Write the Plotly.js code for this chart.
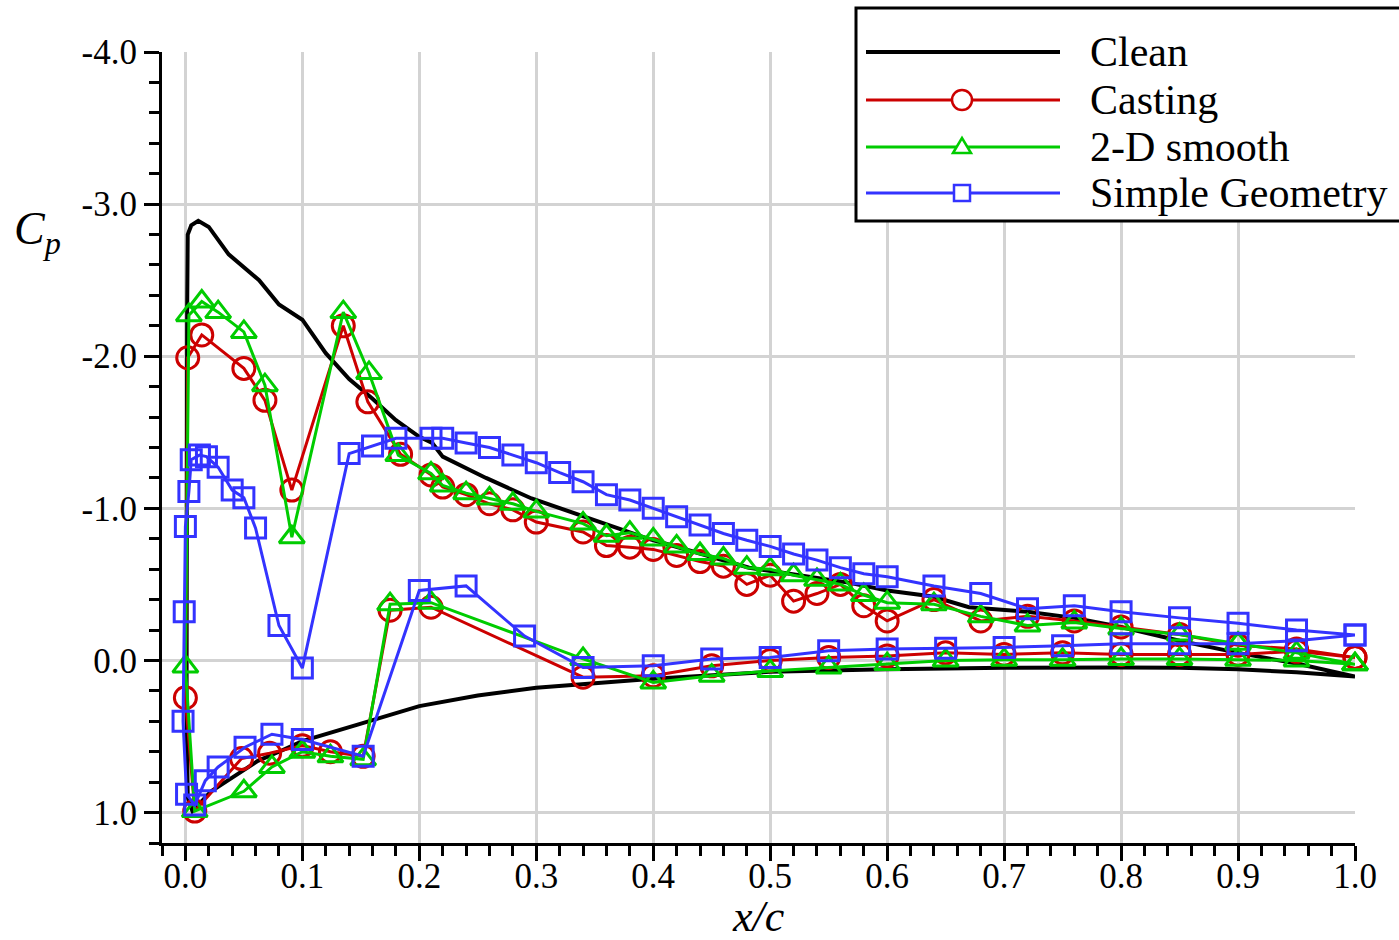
<!DOCTYPE html>
<html>
<head>
<meta charset="utf-8">
<script src="https://cdn.plot.ly/plotly-3.0.1.min.js"></script>
<style>html,body{margin:0;padding:0;background:#fff;}#chart{width:1399px;height:940px;}</style>
</head>
<body>
<div id="chart"></div>
<script>
// ---- data (x/c, Cp), ordered lower-surface TE -> LE -> upper-surface TE ----
const seriesNames = ["Clean", "Casting", "2-D smooth", "Simple Geometry"];

const cleanX = [1.0,0.95,0.9,0.85,0.8,0.7,0.6,0.5,0.4,0.3,0.25,0.2,0.148,0.1,0.08,0.062,0.042,0.022,0.006,0.002,0.001,0.001,0.0015,0.002,0.005,0.011,0.02,0.037,0.051,0.063,0.08,0.1,0.12,0.14,0.16,0.18,0.2,0.211,0.22,0.257,0.296,0.354,0.396,0.482,0.568,0.6,0.639,0.67,0.72,0.76,0.8,0.85,0.9,0.95,1.0];
const cleanY = [0.105,0.078,0.058,0.048,0.046,0.048,0.058,0.075,0.12,0.18,0.23,0.30,0.42,0.53,0.60,0.66,0.76,0.86,0.99,0.9,0.3,-1.0,-2.3,-2.80,-2.86,-2.89,-2.85,-2.67,-2.58,-2.50,-2.34,-2.24,-2.02,-1.85,-1.72,-1.58,-1.47,-1.43,-1.34,-1.20,-1.065,-0.91,-0.80,-0.61,-0.51,-0.46,-0.42,-0.35,-0.32,-0.28,-0.22,-0.13,-0.05,0.02,0.105];

const castX = [1.0,0.95,0.90,0.85,0.80,0.75,0.70,0.65,0.60,0.55,0.50,0.45,0.40,0.34,0.21,0.175,0.152,0.124,0.10,0.072,0.048,0.008,0.0,
  0.002,0.014,0.05,0.068,0.091,0.135,0.156,0.184,0.21,0.22,0.24,0.26,0.28,0.30,0.34,0.36,0.38,0.40,0.42,0.44,0.46,0.48,0.50,0.52,0.54,0.56,0.58,0.60,0.64,0.68,0.72,0.76,0.80,0.85,0.90,0.95,1.0];
const castY = [-0.02,-0.06,-0.04,-0.04,-0.04,-0.05,-0.04,-0.05,-0.03,-0.02,0.0,0.035,0.10,0.11,-0.35,-0.33,0.63,0.60,0.56,0.61,0.645,0.99,0.245,
  -1.99,-2.14,-1.92,-1.71,-1.12,-2.20,-1.70,-1.355,-1.22,-1.14,-1.09,-1.03,-0.99,-0.91,-0.845,-0.755,-0.745,-0.73,-0.69,-0.65,-0.62,-0.50,-0.56,-0.39,-0.44,-0.50,-0.36,-0.26,-0.40,-0.26,-0.29,-0.26,-0.22,-0.17,-0.10,-0.075,-0.02];

const smoothX = [1.0,0.95,0.90,0.85,0.80,0.75,0.70,0.65,0.60,0.55,0.50,0.45,0.40,0.34,0.21,0.175,0.152,0.124,0.10,0.074,0.05,0.008,0.0,
  0.003,0.014,0.028,0.05,0.068,0.091,0.135,0.157,0.182,0.21,0.22,0.24,0.26,0.28,0.30,0.34,0.36,0.38,0.40,0.42,0.44,0.46,0.48,0.50,0.52,0.54,0.56,0.58,0.60,0.64,0.68,0.72,0.76,0.80,0.85,0.90,0.95,1.0];
const smoothY = [0.025,0.0,-0.005,-0.01,-0.01,-0.005,-0.005,0.0,0.024,0.046,0.07,0.10,0.145,-0.01,-0.38,-0.37,0.65,0.63,0.60,0.70,0.86,0.99,0.04,
  -2.27,-2.36,-2.29,-2.16,-1.81,-0.81,-2.29,-1.89,-1.35,-1.23,-1.15,-1.10,-1.065,-1.03,-0.98,-0.90,-0.82,-0.84,-0.795,-0.75,-0.70,-0.67,-0.61,-0.60,-0.56,-0.53,-0.50,-0.43,-0.38,-0.37,-0.29,-0.23,-0.25,-0.21,-0.17,-0.11,-0.05,0.025];

const simpleX = [1.0,0.95,0.90,0.85,0.80,0.75,0.70,0.65,0.60,0.55,0.50,0.45,0.40,0.34,0.29,0.24,0.20,0.152,0.10,0.074,0.051,0.028,0.017,0.008,0.001,-0.002,-0.001,0.0,
  0.003,0.005,0.012,0.018,0.028,0.04,0.05,0.06,0.08,0.10,0.14,0.16,0.18,0.21,0.22,0.24,0.26,0.28,0.30,0.32,0.34,0.36,0.38,0.40,0.42,0.44,0.46,0.48,0.50,0.52,0.54,0.56,0.58,0.60,0.64,0.68,0.72,0.76,0.80,0.85,0.90,0.95,1.0];
const simpleY = [-0.167,-0.13,-0.11,-0.11,-0.11,-0.097,-0.086,-0.08,-0.075,-0.064,-0.02,-0.01,0.035,0.046,-0.16,-0.49,-0.46,0.63,0.52,0.485,0.57,0.70,0.79,0.95,0.88,0.40,-0.32,-0.88,
  -1.11,-1.32,-1.35,-1.34,-1.27,-1.12,-1.07,-0.87,-0.23,0.05,-1.36,-1.41,-1.46,-1.46,-1.46,-1.43,-1.40,-1.35,-1.30,-1.235,-1.175,-1.09,-1.055,-1.0,-0.945,-0.89,-0.835,-0.79,-0.75,-0.70,-0.66,-0.61,-0.57,-0.55,-0.49,-0.44,-0.34,-0.36,-0.32,-0.28,-0.245,-0.20,-0.167];

const xTickVals = [0,0.1,0.2,0.3,0.4,0.5,0.6,0.7,0.8,0.9,1.0];
const xTickText = ["0.0","0.1","0.2","0.3","0.4","0.5","0.6","0.7","0.8","0.9","1.0"];
const yTickVals = [-4,-3,-2,-1,0,1];
const yTickText = ["-4.0","-3.0","-2.0","-1.0","0.0","1.0"];

// ---- styles ----
const colors = ["#000000", "#cc0000", "#00cc00", "#3333ff"];
const symbols = ["circle", "circle-open", "triangle-up-open", "square-open"];
const msizes = [0, 22, 22, 20];
const lwidths = [4, 3, 3, 3];
const FONT = "Liberation Serif, Times New Roman, serif";

const xs = [cleanX, castX, smoothX, simpleX];
const ys = [cleanY, castY, smoothY, simpleY];

const traces = xs.map((x, i) => {
  const t = {
    type: "scatter",
    x: x, y: ys[i],
    name: seriesNames[i],
    mode: i === 0 ? "lines" : "lines+markers",
    line: {color: colors[i], width: lwidths[i]},
    cliponaxis: false,
    showlegend: false
  };
  if (i > 0) t.marker = {symbol: symbols[i], size: msizes[i], color: colors[i], line: {color: colors[i], width: 3}};
  return t;
});

// plot-area pixel geometry
const W = 1399, H = 940, L = 162, R = 44, T = 52, B = 97;
const PW = W - L - R, PH = H - T - B;
const px = p => (p - L) / PW;
const py = p => (H - B - p) / PH;

// custom legend (box, samples, labels)
const shapes = [];
const annotations = [];
shapes.push({type: "rect", xref: "paper", yref: "paper", x0: px(856), x1: px(1420), y0: py(221), y1: py(8),
  line: {color: "#000", width: 3}, fillcolor: "#fff", layer: "above"});
const rowY = [52, 100, 147, 193];
seriesNames.forEach((nm, i) => {
  const yy = py(rowY[i]);
  shapes.push({type: "line", xref: "paper", yref: "paper", x0: px(866), x1: px(1060), y0: yy, y1: yy,
    line: {color: colors[i], width: lwidths[i]}, layer: "above"});
  const base = {xref: "paper", yref: "paper", xsizemode: "pixel", ysizemode: "pixel", xanchor: px(962), yanchor: yy,
    line: {color: colors[i], width: 2.5}, fillcolor: "#fff", layer: "above"};
  if (i === 1) shapes.push(Object.assign({type: "circle", x0: -10, x1: 10, y0: -10, y1: 10}, base));
  if (i === 2) shapes.push(Object.assign({type: "path", path: "M-9,-6 L0,9 L9,-6 Z"}, base));
  if (i === 3) shapes.push(Object.assign({type: "rect", x0: -8, x1: 8, y0: -8, y1: 8}, base));
  annotations.push({xref: "paper", yref: "paper", x: px(1088), y: yy, xanchor: "left", yanchor: "middle",
    text: nm, showarrow: false, font: {family: FONT, size: 42, color: "#000"}});
});
// axis titles
annotations.push({xref: "paper", yref: "paper", x: px(12), y: py(232), xanchor: "left", yanchor: "middle",
  text: "<i>C</i><sub><i>p</i></sub>", showarrow: false, font: {family: FONT, size: 46, color: "#000"}});
annotations.push({xref: "paper", yref: "paper", x: 0.5, y: py(916), xanchor: "center", yanchor: "middle",
  text: "<i>x/c</i>", showarrow: false, font: {family: FONT, size: 44, color: "#000"}});

const layout = {
  width: W, height: H,
  margin: {l: L, r: R, t: T, b: B, pad: 0},
  paper_bgcolor: "#fff", plot_bgcolor: "#fff",
  font: {family: FONT, color: "#000", size: 35},
  showlegend: false,
  xaxis: {
    range: [-0.02, 1.0], tickmode: "array", tickvals: xTickVals, ticktext: xTickText,
    ticks: "outside", ticklen: 15, tickwidth: 3, tickcolor: "#000", ticklabelstandoff: -15,
    showline: true, linecolor: "#000", linewidth: 3, zeroline: false,
    showgrid: true, gridcolor: "#d3d3d3", gridwidth: 3,
    tickfont: {family: FONT, size: 35, color: "#000"},
    minor: {tickmode: "linear", tick0: 0, dtick: 0.02, ticks: "outside", ticklen: 10, tickwidth: 3, tickcolor: "#000", showgrid: false}
  },
  yaxis: {
    range: [1.2, -4.0], tickmode: "array", tickvals: yTickVals, ticktext: yTickText,
    ticks: "outside", ticklen: 15, tickwidth: 3, tickcolor: "#000",
    showline: true, linecolor: "#000", linewidth: 3, zeroline: false,
    showgrid: true, gridcolor: "#d3d3d3", gridwidth: 3,
    tickfont: {family: FONT, size: 35, color: "#000"},
    minor: {tickmode: "linear", tick0: 0, dtick: 0.2, ticks: "outside", ticklen: 10, tickwidth: 3, tickcolor: "#000", showgrid: false}
  },
  shapes: shapes,
  annotations: annotations
};

Plotly.newPlot("chart", traces, layout, {displayModeBar: false, staticPlot: true});
</script>
</body>
</html>
